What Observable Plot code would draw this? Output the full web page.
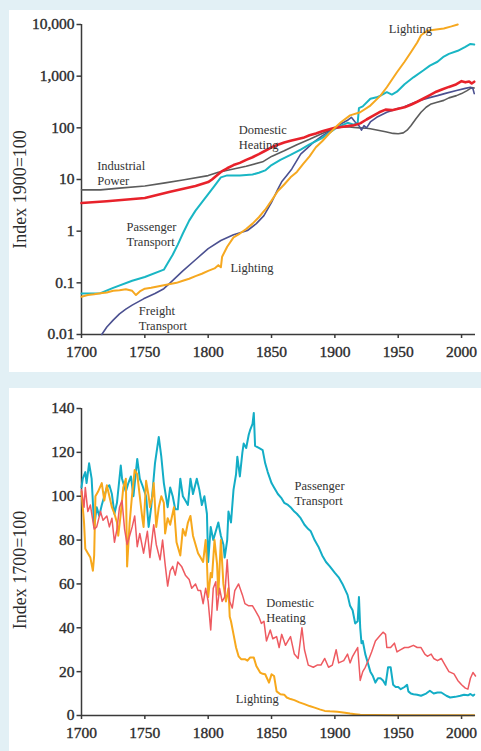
<!DOCTYPE html>
<html><head><meta charset="utf-8">
<script src="https://cdn.jsdelivr.net/npm/d3@7"></script>
<script src="https://cdn.jsdelivr.net/npm/@observablehq/plot@0.6"></script>
<style>
html,body{margin:0;padding:0;background:#e2f0f5;width:481px;height:751px;overflow:hidden}
.card{position:absolute;left:9px;width:472px;background:#fff}
#top{top:10px;height:362px}
#bottom{top:388px;height:363px}
svg [aria-label$="tick label"] text{stroke:#2b2b2b;stroke-width:0.35px}
</style></head><body>
<div id="top" class="card"></div><div id="bottom" class="card"></div>
<script>
// ---------- axis ticks ----------
const xTicks = [1700, 1750, 1800, 1850, 1900, 1950, 2000];
const topYTicks = [0.01, 0.1, 1, 10, 100, 1000, 10000];
const bottomYTicks = [0, 20, 40, 60, 80, 100, 120, 140];
const topYTitle = "Index 1900=100";
const bottomYTitle = "Index 1700=100";

// ---------- top panel (index 1900=100, log) ----------
const industrialYears = [1700,1715,1730,1750,1766,1780,1800,1808,1820,1830,1843,1850,1860,1870,1880,1890,1900,1905,1910,1915,1920,1925,1928,1932,1936,1940,1946,1950,1954,1957,1960,1964,1968,1972,1976,1980,1986,1990,1996,2000,2004,2008,2010];
const industrialValues = [6.3,6.3,6.8,7.5,8.6,9.8,11.9,13.8,16,18,22,28,36,47,60,78,98,103,105,102,100,98,96,92,88,84,78,77,80,90,110,150,200,250,290,310,340,380,420,460,520,600,590];

const heatingYears = [1700,1720,1750,1770,1790,1800,1803,1810,1815,1820,1825,1830,1835,1840,1845,1850,1855,1860,1865,1870,1875,1880,1885,1890,1895,1900,1905,1910,1915,1920,1925,1930,1935,1940,1945,1950,1955,1960,1965,1970,1975,1980,1985,1990,1995,2000,2003,2006,2008,2010];
const heatingValues = [3.5,3.8,4.4,5.8,7.5,8.9,10,14,16.5,19,21,24,27,31,36,42,47,52,56,60,64,72,78,86,93,100,104,108,112,122,145,170,200,225,220,235,250,280,320,370,430,500,560,620,680,800,760,790,720,780];

const passengerYears = [1700,1715,1725,1740,1750,1765,1768,1772,1776,1780,1785,1790,1795,1800,1805,1810,1815,1825,1835,1840,1845,1850,1857,1865,1873,1880,1889,1895,1900,1905,1910,1915,1918,1919,1922,1928,1933,1936,1941,1945,1949,1955,1962,1970,1975,1981,1986,1990,1997,2003,2007,2010];
const passengerValues = [0.062,0.063,0.08,0.11,0.13,0.18,0.24,0.35,0.55,0.9,1.6,2.5,3.6,5.2,7.5,11,12,12,12.5,13.5,15,19,24,30,38,48,62,78,95,110,125,115,125,240,260,365,390,420,490,440,500,700,950,1300,1600,1900,2400,2700,3100,3700,4200,4100];

const lightingYears = [1700,1705,1710,1715,1720,1725,1730,1735,1740,1743,1746,1750,1755,1760,1765,1770,1775,1780,1785,1790,1795,1800,1805,1808,1810,1811,1815,1820,1825,1830,1835,1840,1845,1850,1855,1860,1865,1870,1875,1880,1885,1890,1895,1900,1905,1912,1920,1928,1936,1941,1949,1955,1960,1965,1968,1973,1980,1986,1992,1997];
const lightingValues = [0.054,0.058,0.06,0.063,0.065,0.07,0.072,0.075,0.07,0.058,0.068,0.077,0.08,0.085,0.09,0.095,0.1,0.11,0.12,0.135,0.15,0.17,0.19,0.22,0.2,0.32,0.5,0.76,0.9,1.1,1.4,1.86,2.6,3.9,6,8,11,14,20,28,42,55,75,100,130,174,200,270,420,610,1190,1900,2900,4500,6200,7600,8000,8400,9200,10000];

const freightYears = [1716,1720,1725,1730,1735,1740,1749,1758,1765,1770,1780,1790,1800,1810,1820,1831,1838,1844,1850,1855,1858,1862,1866,1873,1878,1883,1890,1900,1905,1910,1913,1916,1919,1921,1923,1925,1928,1933,1941,1948,1954,1960,1967,1974,1981,1988,1996,2003,2007,2009,2010];
const freightValues = [0.01,0.014,0.019,0.025,0.031,0.037,0.049,0.062,0.077,0.1,0.17,0.28,0.46,0.66,0.85,1.03,1.4,2.0,3.6,6.5,9,12,16,31,40,52,70,100,120,140,160,130,110,90,110,100,130,160,200,230,250,290,340,380,420,470,530,580,610,570,460];

// ---------- bottom panel (index 1700=100, linear) ----------
const passengerBYears = [1700,1701,1703,1704,1706,1708,1710,1712,1714,1716,1718,1720,1722,1724,1726,1728,1731,1732,1735,1737,1739,1741,1744,1746,1748,1751,1753,1755,1758,1761,1763,1765,1768,1770,1772,1774,1776,1778,1780,1782,1784,1786,1788,1791,1793,1795,1797,1799,1800,1802,1804,1806,1808,1810,1812,1813,1815,1816,1818,1820,1822,1823,1825,1827,1828,1830,1832,1833,1835,1836,1837,1840,1843,1845,1847,1850,1852,1855,1858,1860,1863,1865,1868,1870,1873,1876,1879,1881,1884,1887,1890,1893,1896,1900,1903,1906,1910,1912,1914,1916,1918,1919,1920,1921,1922,1924,1926,1928,1930,1932,1934,1936,1938,1940,1942,1944,1946,1948,1950,1952,1955,1957,1958,1960,1962,1965,1968,1972,1975,1978,1981,1984,1988,1991,1995,1999,2002,2005,2007,2009,2010];
const passengerBValues = [104,108,111,106,115,108,86,95,91,96,100,104,105,101,92,97,114,108,102,106,109,100,117,108,105,100,86,95,115,127,118,106,95,104,100,94,94,108,100,98,96,108,101,108,103,96,100,92,70,86,80,84,88,82,78,72,80,93,88,103,110,118,109,120,124,122,128,130,133,138,123,122,121,115,111,106,104,101,99,97,96,95,93,92,90,87,85,84,80,77,73,70,68,65,63,60,55,50,48,42,43,54,40,33,34,28,24,20,18,15,17,17,16,14,22,22,14,13,13,12,13,14,11,10,9.7,9.5,9,10,11.3,10,10.5,10.5,9,8.2,8.5,9,9.5,9.2,9.8,9,9.5];

const heatingBYears = [1700,1702,1703,1705,1707,1710,1712,1715,1717,1720,1722,1724,1726,1728,1730,1732,1734,1736,1738,1740,1742,1744,1746,1749,1752,1754,1757,1759,1762,1764,1766,1768,1770,1772,1774,1776,1779,1782,1785,1787,1790,1792,1794,1796,1798,1800,1802,1804,1806,1807,1809,1811,1813,1815,1817,1819,1821,1824,1827,1829,1832,1835,1837,1840,1842,1844,1846,1849,1851,1854,1856,1858,1861,1863,1865,1868,1871,1874,1876,1879,1883,1886,1889,1892,1895,1898,1901,1903,1907,1910,1912,1914,1916,1918,1920,1922,1924,1927,1929,1932,1935,1938,1940,1941,1944,1947,1949,1952,1955,1958,1962,1965,1968,1971,1973,1976,1978,1981,1984,1987,1990,1994,1997,2000,2003,2005,2007,2009,2011];
const heatingBValues = [103,95,104,93,96,85,86,93,89,91,86,90,79,85,95,98,85,78,82,86,91,77,83,74,84,72,87,78,71,80,69,59,66,68,64,70,68,64,62,58,60,57,57,51,58,52,39,58,61,48,58,52,54,71,52,49,57,60,55,51,50,50,48,45,42,43,34,39,35,36,31,37,32,34,36,28,26,40,30,23,22,23,23,26,22,23,30,24,25,28,24,27,29,31,16,20,22,26,29,34,36,38,37,31,31,33,29,30,31,31,32,31,31,28,27,28,26,25,26,23,20,19,16,14,12.5,12,17,19.6,18];

const lightingBYears = [1700,1702,1703,1705,1707,1709,1710,1711,1713,1716,1718,1720,1722,1724,1726,1728,1729,1731,1733,1735,1736,1738,1740,1742,1744,1746,1748,1749,1751,1753,1754,1756,1757,1759,1761,1763,1765,1766,1768,1770,1773,1775,1778,1780,1782,1784,1786,1788,1790,1792,1794,1796,1798,1799,1800,1802,1803,1805,1807,1808,1810,1812,1814,1816,1817,1818,1820,1822,1824,1826,1829,1831,1833,1836,1838,1841,1843,1845,1848,1850,1852,1854,1857,1860,1862,1865,1868,1872,1876,1880,1884,1888,1892,1896,1902,1908,1912,1916,1920,1930,1950,1980,2010];
const lightingBValues = [102,88,76,74,72,66,73,100,102,106,98,105,100,95,92,88,82,92,104,108,68,88,101,112,110,100,90,86,107,100,95,100,106,86,95,100,97,83,90,87,95,79,73,85,82,88,91,82,78,74,72,70,80,70,54,65,63,80,69,55,80,60,52,58,45,43,37,31,27,25.7,25.7,25,26.4,26.4,22.6,19.6,19,18.8,15,18.8,18,11,9.7,9.5,8.2,7.5,7,6,5.2,4.3,3.6,2.8,2.1,1.9,1.7,1.3,0.9,0.6,0.3,0.2,0.1,0.1,0.1];

// ---------- annotations (text, year, value at top of first line) ----------
const topLabels = [
  {text: "Lighting", year: 1942.6, value: 10900},
  {text: "Domestic\nHeating", year: 1824.2, value: 122},
  {text: "Industrial\nPower", year: 1712.4, value: 24.6},
  {text: "Passenger\nTransport", year: 1735.5, value: 1.65},
  {text: "Lighting", year: 1817.6, value: 0.258},
  {text: "Freight\nTransport", year: 1745.2, value: 0.0384}
];
const bottomLabels = [
  {text: "Passenger\nTransport", year: 1868.2, value: 107.6},
  {text: "Domestic\nHeating", year: 1845.8, value: 54.5},
  {text: "Lighting", year: 1821.8, value: 10.75}
];

// ---------- build tables ----------
const rows = (years, values) => years.map((y, i) => ({year: y, value: values[i]}));
const fmtLog = d => d < 1 ? String(d) : d3.format(",")(d);
const font = "'Liberation Serif', 'Times New Roman', serif";
const axisColor = "#3a3a3a";

const topPlot = Plot.plot({
  width: 472, height: 362,
  marginLeft: 72, marginRight: 6, marginTop: 14, marginBottom: 38,
  style: {fontFamily: font, fontSize: "15.5px", color: "#2b2b2b", background: "transparent", overflow: "visible"},
  x: {domain: [1700, 2011]},
  y: {type: "log", domain: [0.01, 10000]},
  marks: [
    Plot.axisX({ticks: xTicks, tickFormat: d => String(d), tickSize: 4, tickPadding: 7, label: null, strokeWidth: 1.5, stroke: axisColor}),
    Plot.axisY({ticks: topYTicks, tickFormat: fmtLog, tickSize: 4.5, tickPadding: 2.5, label: null, strokeWidth: 1.5, stroke: axisColor}),
    Plot.ruleX([1700], {stroke: axisColor, strokeWidth: 1.5}),
    Plot.ruleY([0.01], {stroke: axisColor, strokeWidth: 1.5}),
    Plot.line(rows(industrialYears, industrialValues), {x: "year", y: "value", stroke: "#5c5c5c", strokeWidth: 1.6}),
    Plot.line(rows(freightYears, freightValues), {x: "year", y: "value", stroke: "#4b5090", strokeWidth: 1.6}),
    Plot.line(rows(passengerYears, passengerValues), {x: "year", y: "value", stroke: "#19b6c4", strokeWidth: 2}),
    Plot.line(rows(heatingYears, heatingValues), {x: "year", y: "value", stroke: "#e8222b", strokeWidth: 2.6}),
    Plot.line(rows(lightingYears, lightingValues), {x: "year", y: "value", stroke: "#f6a820", strokeWidth: 2}),
    Plot.text(topLabels, {x: "year", y: "value", text: "text", textAnchor: "start", lineAnchor: "top", lineHeight: 1.2, fontSize: 12.5, fill: "#333"}),
    Plot.text([topYTitle], {text: d => d, frameAnchor: "left", rotate: -90, dx: -68, dy: 10, lineAnchor: "top", textAnchor: "middle", fontSize: 18, fill: "#2b2b2b"})
  ]
});
document.getElementById("top").appendChild(topPlot);

const bottomPlot = Plot.plot({
  width: 472, height: 363,
  marginLeft: 72, marginRight: 6, marginTop: 20, marginBottom: 36,
  style: {fontFamily: font, fontSize: "15.5px", color: "#2b2b2b", background: "transparent", overflow: "visible"},
  x: {domain: [1700, 2011]},
  y: {domain: [0, 140]},
  marks: [
    Plot.axisX({ticks: xTicks, tickFormat: d => String(d), tickSize: 4, tickPadding: 7, label: null, strokeWidth: 1.5, stroke: axisColor}),
    Plot.axisY({ticks: bottomYTicks, tickSize: 4.5, tickPadding: 2.5, label: null, strokeWidth: 1.5, stroke: axisColor}),
    Plot.ruleX([1700], {stroke: axisColor, strokeWidth: 1.5}),
    Plot.line(rows(passengerBYears, passengerBValues), {x: "year", y: "value", stroke: "#13adc6", strokeWidth: 2}),
    Plot.line(rows(lightingBYears, lightingBValues), {x: "year", y: "value", stroke: "#f7a81c", strokeWidth: 2}),
    Plot.line(rows(heatingBYears, heatingBValues), {x: "year", y: "value", stroke: "#ee5a60", strokeWidth: 1.5}),
    Plot.ruleY([0], {stroke: axisColor, strokeWidth: 1.5}),
    Plot.text(bottomLabels, {x: "year", y: "value", text: "text", textAnchor: "start", lineAnchor: "top", lineHeight: 1.2, fontSize: 12.5, fill: "#333"}),
    Plot.text([bottomYTitle], {text: d => d, frameAnchor: "left", rotate: -90, dx: -68, dy: 8, lineAnchor: "top", textAnchor: "middle", fontSize: 18, fill: "#2b2b2b"})
  ]
});
document.getElementById("bottom").appendChild(bottomPlot);
</script>
</body></html>
